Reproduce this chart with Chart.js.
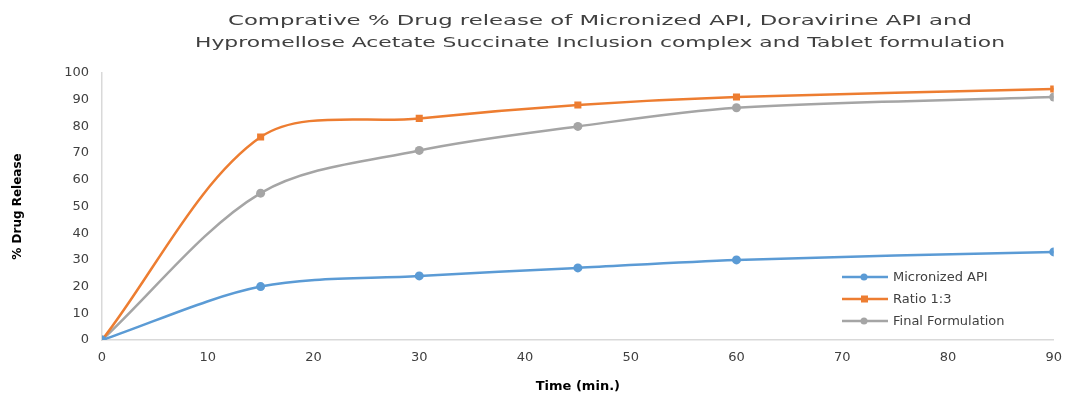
<!DOCTYPE html>
<html>
<head>
<meta charset="utf-8">
<script src="https://cdn.jsdelivr.net/npm/chart.js@4"></script>
<style>
  html, body { margin: 0; padding: 0; background: #fff; }
  #wrap { width: 1072px; height: 394px; }
</style>
</head>
<body>
<div id="wrap"><canvas id="release-chart" width="1072" height="394"></canvas></div>
<script>
// time points (min.)
var times = [0, 15, 30, 45, 60, 90];

// % drug release per series
var micronized = [0, 20, 24, 27, 30, 33];
var ratio13 = [0, 76, 83, 88, 91, 94];
var finalForm = [0, 55, 71, 80, 87, 91];

var seriesNames = ["Micronized API", "Ratio 1:3", "Final Formulation"];
var titleLines = [
  "Comprative % Drug release of Micronized API, Doravirine API and",
  "Hypromellose Acetate Succinate Inclusion complex and Tablet formulation"
];

var fontFam = "'DejaVu Sans', sans-serif";

function toPoints(arr) {
  return arr.map(function (v, i) { return { x: times[i], y: v }; });
}

// title drawn by hand so it can be centred and stretched like the original
var titlePlugin = {
  id: "titleDraw",
  afterDraw: function (chart) {
    var c = chart.ctx;
    c.save();
    c.fillStyle = "#404040";
    c.font = "14px " + fontFam;
    c.textAlign = "center";
    c.textBaseline = "alphabetic";
    var widths = [744, 810];
    var ys = [25, 47];
    titleLines.forEach(function (t, i) {
      var w = c.measureText(t).width;
      c.save();
      c.translate(600, ys[i]);
      c.scale(widths[i] / w, 1);
      c.fillText(t, 0, 0);
      c.restore();
    });
    c.restore();
  }
};

// legend inside the plot, bottom right
var legendPlugin = {
  id: "legendDraw",
  afterDraw: function (chart) {
    var c = chart.ctx;
    c.save();
    c.font = "13px " + fontFam;
    c.textBaseline = "middle";
    c.textAlign = "left";
    var ys = [277, 299, 321];
    chart.data.datasets.forEach(function (ds, i) {
      var y = ys[i];
      c.strokeStyle = ds.borderColor;
      c.lineWidth = 2.5;
      c.beginPath();
      c.moveTo(842, y);
      c.lineTo(888, y);
      c.stroke();
      c.fillStyle = ds.borderColor;
      if (ds.pointStyle === "rect") {
        c.fillRect(861, y - 3.5, 7, 7);
      } else {
        c.beginPath();
        c.arc(864, y, 3.5, 0, Math.PI * 2);
        c.fill();
      }
      c.fillStyle = "#404040";
      c.fillText(ds.label, 893, y + 1);
    });
    c.restore();
  }
};

var data = {
  datasets: [
    {
      label: seriesNames[0],
      data: toPoints(micronized),
      borderColor: "#5B9BD5",
      backgroundColor: "#5B9BD5",
      pointStyle: "circle",
      pointRadius: 4.5
    },
    {
      label: seriesNames[1],
      data: toPoints(ratio13),
      borderColor: "#ED7D31",
      backgroundColor: "#ED7D31",
      pointStyle: "rect",
      pointRadius: 5
    },
    {
      label: seriesNames[2],
      data: toPoints(finalForm),
      borderColor: "#A5A5A5",
      backgroundColor: "#A5A5A5",
      pointStyle: "circle",
      pointRadius: 4.5
    }
  ]
};

var options = {
  responsive: false,
  animation: false,
  layout: { padding: { top: 73, right: 12, left: 11, bottom: 0 } },
  elements: {
    line: { borderWidth: 2.5, tension: 0.32, fill: false },
    point: { borderWidth: 0 }
  },
  plugins: {
    legend: { display: false },
    title: { display: false },
    tooltip: { enabled: false }
  },
  scales: {
    x: {
      type: "linear",
      min: 0,
      max: 90,
      grid: { display: false, drawTicks: false },
      border: { color: "#d9d9d9", width: 1.5 },
      ticks: {
        stepSize: 10,
        padding: 10,
        color: "#404040",
        font: { family: fontFam, size: 13 }
      },
      title: {
        display: true,
        text: "Time (min.)",
        color: "#000",
        font: { family: fontFam, size: 13, weight: "bold" },
        padding: { top: 4, bottom: 0 }
      },
      afterFit: function (scale) { scale.height = 54; }
    },
    y: {
      min: 0,
      max: 100,
      grid: { display: false, drawTicks: false },
      border: { color: "#d9d9d9", width: 1.5 },
      ticks: {
        stepSize: 10,
        padding: 13,
        color: "#404040",
        font: { family: fontFam, size: 13 }
      },
      title: {
        display: true,
        text: "% Drug Release",
        color: "#000",
        font: { family: fontFam, size: 12, weight: "bold" },
        padding: { top: 0, bottom: 0 }
      },
      afterFit: function (scale) { scale.width = 91; }
    }
  }
};

var ctx = document.getElementById("release-chart").getContext("2d");
var chart = new Chart(ctx, {
  type: "line",
  data: data,
  options: options,
  plugins: [titlePlugin, legendPlugin]
});
</script>
</body>
</html>
